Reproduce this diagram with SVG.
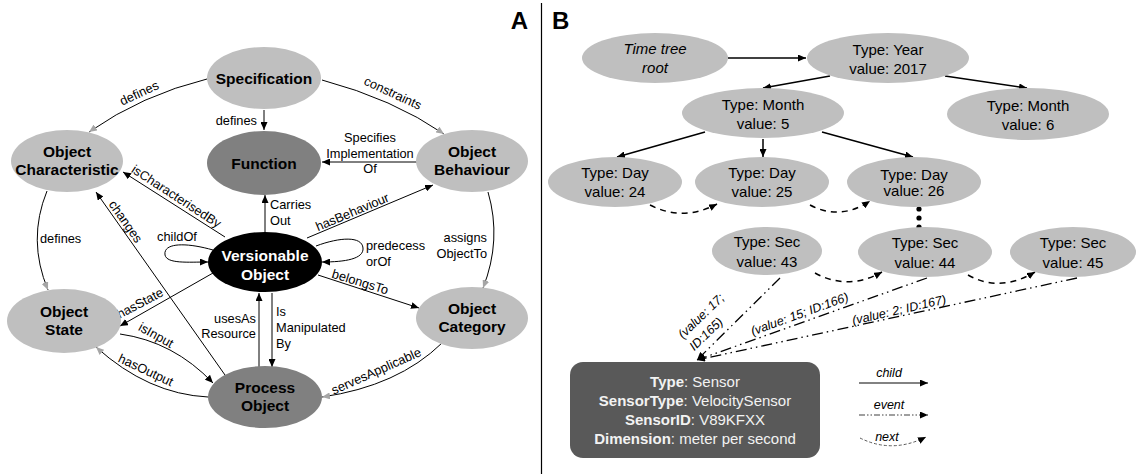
<svg xmlns="http://www.w3.org/2000/svg" width="1138" height="474" viewBox="0 0 1138 474">
<defs>
<style>
text{font-family:"Liberation Sans",Arial,sans-serif;fill:#000}
.nl{font-size:15.5px;font-weight:bold;text-anchor:middle}
.nw{fill:#fff}
.el{font-size:12.8px}
.m{text-anchor:middle}
.e{text-anchor:end}
.light{fill:#bfbfbf}
.dark{fill:#808080}
.ln{fill:none;stroke:#000;stroke-width:1}
.bt{font-size:15px;text-anchor:middle}
.ch{fill:none;stroke:#000;stroke-width:1.5}
.nx{fill:none;stroke:#000;stroke-width:1.5;stroke-dasharray:6,5}
.ev{fill:none;stroke:#000;stroke-width:1.3;stroke-dasharray:11,4,1.5,4,1.5,4}
.it{font-style:italic;font-size:12.5px}
.st{font-size:15px;text-anchor:middle;fill:#f2f2f2}
</style>
<marker id="ab" viewBox="0 0 8 7" refX="8" refY="3.5" markerWidth="8" markerHeight="7" markerUnits="userSpaceOnUse" orient="auto"><path d="M0,0L8,3.5L0,7z" fill="#000"/></marker>
<marker id="ag" viewBox="0 0 8 7" refX="8" refY="3.5" markerWidth="8" markerHeight="7" markerUnits="userSpaceOnUse" orient="auto"><path d="M0,0L8,3.5L0,7z" fill="#a6a6a6"/></marker>
</defs>
<rect width="1138" height="474" fill="#fff"/>

<!-- Panel labels and separator -->
<text x="528" y="29" font-size="24" font-weight="bold" text-anchor="end">A</text>
<text x="552" y="29" font-size="24" font-weight="bold">B</text>
<line x1="541.5" y1="3" x2="541.5" y2="474" stroke="#000" stroke-width="1.2"/>

<!-- Panel A connectors -->
<g id="connectors-a">
<path class="ln" d="M207,79 Q142,95 89,132" marker-end="url(#ag)"/>
<text class="el m" transform="translate(141,97) rotate(-25)">defines</text>
<path class="ln" d="M264,110 L264,130" marker-end="url(#ab)"/>
<text class="el e" x="257" y="125">defines</text>
<path class="ln" d="M322,80 Q393,99 444,134" marker-end="url(#ag)"/>
<text class="el m" transform="translate(391,97) rotate(25)">constraints</text>
<path class="ln" d="M417,162 L322,162" marker-end="url(#ab)"/>
<text class="el m" x="370" y="142">Specifies</text>
<text class="el m" x="370" y="158">Implementation</text>
<text class="el m" x="370" y="173">Of</text>
<path class="ln" d="M265,232 L265,195" marker-end="url(#ab)"/>
<text class="el" x="270" y="209">Carries</text>
<text class="el" x="270" y="225">Out</text>
<path class="ln" d="M307,238 L433,185" marker-end="url(#ab)"/>
<text class="el m" transform="translate(354,216) rotate(-23)">hasBehaviour</text>
<path class="ln" d="M225,237 L123,172" marker-end="url(#ab)"/>
<text class="el m" transform="translate(174,200) rotate(33)">isCharacterisedBy</text>
<path class="ln" d="M225,375 L96,192" marker-end="url(#ab)"/>
<text class="el m" transform="translate(122,224) rotate(55)">changes</text>
<path class="ln" d="M213,273 L120,326" marker-end="url(#ab)"/>
<text class="el m" transform="translate(142,307) rotate(-28)">hasState</text>
<path class="ln" d="M120,334 Q173.5,341.5 213,383" marker-end="url(#ab)"/>
<text class="el m" transform="translate(154,339) rotate(29)">isInput</text>
<path class="ln" d="M208,397 Q148,394 96,347" marker-end="url(#ag)"/>
<text class="el m" transform="translate(144,374) rotate(25)">hasOutput</text>
<path class="ln" d="M259,367 L259,293" marker-end="url(#ab)"/>
<text class="el e" x="256" y="323">usesAs</text>
<text class="el e" x="256" y="338">Resource</text>
<path class="ln" d="M272,293 L272,367" marker-end="url(#ab)"/>
<text class="el" x="276" y="316">Is</text>
<text class="el" x="276" y="332">Manipulated</text>
<text class="el" x="276" y="348">By</text>
<path class="ln" d="M213,250 C185,242 163,243 165,255 C167,264 188,262 208,262" marker-end="url(#ab)"/>
<text class="el m" x="177" y="241">childOf</text>
<path class="ln" d="M316,246 C340,237 362,236 363,248 C364,259 345,262 322,262" marker-end="url(#ab)"/>
<text class="el" x="366" y="250">predecess</text>
<text class="el" x="366" y="266">orOf</text>
<path class="ln" d="M318,275 L419,308" marker-end="url(#ab)"/>
<text class="el m" transform="translate(359,286) rotate(17)">belongsTo</text>
<path class="ln" d="M488,192 Q502,240 483,288" marker-end="url(#ag)"/>
<text class="el e" x="487" y="242">assigns</text>
<text class="el e" x="487" y="258">ObjectTo</text>
<path class="ln" d="M442,343 Q398,386 322,397" marker-end="url(#ag)"/>
<text class="el m" transform="translate(378,375) rotate(-24)">servesApplicable</text>
<path class="ln" d="M47,191 Q27,240 48,290" marker-end="url(#ag)"/>
<text class="el" x="40" y="243">defines</text>
</g>

<!-- Panel A nodes -->
<g id="specification"><ellipse class="light" cx="264" cy="78" rx="57" ry="31"/><text class="nl" x="264" y="84">Specification</text></g>
<g id="function"><ellipse class="dark" cx="264" cy="163" rx="57" ry="32"/><text class="nl" x="264" y="169">Function</text></g>
<g id="object-characteristic"><ellipse class="light" cx="67" cy="161" rx="56" ry="31"/><text class="nl" x="67" y="157">Object</text><text class="nl" x="67" y="175">Characteristic</text></g>
<g id="object-behaviour"><ellipse class="light" cx="472" cy="161" rx="56" ry="31"/><text class="nl" x="472" y="157">Object</text><text class="nl" x="472" y="175">Behaviour</text></g>
<g id="versionable-object"><ellipse fill="#000" cx="265" cy="262" rx="57" ry="30"/><text class="nl nw" x="265" y="261">Versionable</text><text class="nl nw" x="265" y="280">Object</text></g>
<g id="object-state"><ellipse class="light" cx="64" cy="321" rx="57" ry="32"/><text class="nl" x="64" y="317">Object</text><text class="nl" x="64" y="335">State</text></g>
<g id="object-category"><ellipse class="light" cx="472" cy="318" rx="56" ry="31"/><text class="nl" x="472" y="314">Object</text><text class="nl" x="472" y="332">Category</text></g>
<g id="process-object"><ellipse class="dark" cx="265" cy="397" rx="57" ry="31"/><text class="nl" x="265" y="393">Process</text><text class="nl" x="265" y="411">Object</text></g>

<!-- Panel B connectors -->
<g id="connectors-b">
<path class="ch" d="M728,58 L806,58" marker-end="url(#ab)"/>
<path class="ch" d="M830,76 L763,88" marker-end="url(#ab)"/>
<path class="ch" d="M945,76 L1027,88" marker-end="url(#ab)"/>
<path class="ch" d="M705,132 L617,157" marker-end="url(#ab)"/>
<path class="ch" d="M763,139 L763,157" marker-end="url(#ab)"/>
<path class="ch" d="M822,132 L913,157" marker-end="url(#ab)"/>
<path class="nx" d="M650,205 Q683,222 717,204" marker-end="url(#ab)"/>
<path class="nx" d="M810,205 Q840,221 870,201" marker-end="url(#ab)"/>
<path class="nx" d="M815,273 Q848,291 882,272" marker-end="url(#ab)"/>
<path class="nx" d="M968,275 Q1000,293 1035,272" marker-end="url(#ab)"/>
<circle cx="919" cy="209" r="2.6"/>
<circle cx="919" cy="218" r="2.6"/>
<circle cx="919" cy="227" r="2.6"/>
<path class="ev" d="M780,278 L697,360" marker-end="url(#ab)"/>
<path class="ev" d="M927,278 L697,360" marker-end="url(#ab)"/>
<path class="ev" d="M1077,278 L697,360" marker-end="url(#ab)"/>
<text class="it m" transform="translate(704,319) rotate(-44)">(value: 17;</text>
<text class="it m" transform="translate(709,337) rotate(-44)">ID:165)</text>
<text class="it m" transform="translate(801,318) rotate(-20)">(value: 15; ID:166)</text>
<text class="it m" transform="translate(900,314) rotate(-13)">(value: 2; ID:167)</text>
</g>

<!-- Panel B nodes -->
<g id="timetree-root"><ellipse class="light" cx="655" cy="58" rx="73" ry="25"/><text class="bt" x="655" y="54" font-style="italic">Time tree</text><text class="bt" x="655" y="73" font-style="italic">root</text></g>
<g id="year-2017"><ellipse class="light" cx="888" cy="58" rx="81" ry="25"/><text class="bt" x="888" y="55">Type: Year</text><text class="bt" x="888" y="74">value: 2017</text></g>
<g id="month-5"><ellipse class="light" cx="763" cy="113" rx="81" ry="25"/><text class="bt" x="763" y="110">Type: Month</text><text class="bt" x="763" y="129">value: 5</text></g>
<g id="month-6"><ellipse class="light" cx="1028" cy="114" rx="81" ry="26"/><text class="bt" x="1028" y="111">Type: Month</text><text class="bt" x="1028" y="130">value: 6</text></g>
<g id="day-24"><ellipse class="light" cx="615" cy="182" rx="67" ry="25"/><text class="bt" x="615" y="178">Type: Day</text><text class="bt" x="615" y="197">value: 24</text></g>
<g id="day-25"><ellipse class="light" cx="762" cy="182" rx="67" ry="25"/><text class="bt" x="762" y="178">Type: Day</text><text class="bt" x="762" y="197">value: 25</text></g>
<g id="day-26"><ellipse class="light" cx="914" cy="182" rx="67" ry="25"/><text class="bt" x="914" y="180" font-size="13">Type: Day</text><text class="bt" x="914" y="196" font-size="13">value: 26</text></g>
<g id="sec-43"><ellipse class="light" cx="767" cy="251" rx="55" ry="24"/><text class="bt" x="767" y="247">Type: Sec</text><text class="bt" x="767" y="267">value: 43</text></g>
<g id="sec-44"><ellipse class="light" cx="925" cy="252" rx="67" ry="25"/><text class="bt" x="925" y="248">Type: Sec</text><text class="bt" x="925" y="268">value: 44</text></g>
<g id="sec-45"><ellipse class="light" cx="1073" cy="252" rx="63" ry="25"/><text class="bt" x="1073" y="248">Type: Sec</text><text class="bt" x="1073" y="268">value: 45</text></g>
<g id="sensor"><rect x="570" y="362" width="250" height="96" rx="13" fill="#595959"/>
<text class="st" x="695" y="387"><tspan font-weight="bold">Type</tspan>: Sensor</text>
<text class="st" x="695" y="406"><tspan font-weight="bold">SensorType</tspan>: VelocitySensor</text>
<text class="st" x="695" y="425"><tspan font-weight="bold">SensorID</tspan>: V89KFXX</text>
<text class="st" x="695" y="444"><tspan font-weight="bold">Dimension</tspan>: meter per second</text>
</g>

<!-- Legend -->
<g id="legend">
<text class="it m" x="889" y="377">child</text>
<path d="M859,383 L928,383" fill="none" stroke="#595959" stroke-width="1.3" marker-end="url(#ab)"/>
<text class="it m" x="889" y="409">event</text>
<path d="M859,415 L928,415" fill="none" stroke="#808080" stroke-width="1.3" stroke-dasharray="6,2,1.5,2,1.5,2" marker-end="url(#ab)"/>
<text class="it m" x="887" y="441">next</text>
<path d="M860,438 Q892,454 926,437" fill="none" stroke="#595959" stroke-width="1" stroke-dasharray="3,2" marker-end="url(#ab)"/>
</g>
</svg>
